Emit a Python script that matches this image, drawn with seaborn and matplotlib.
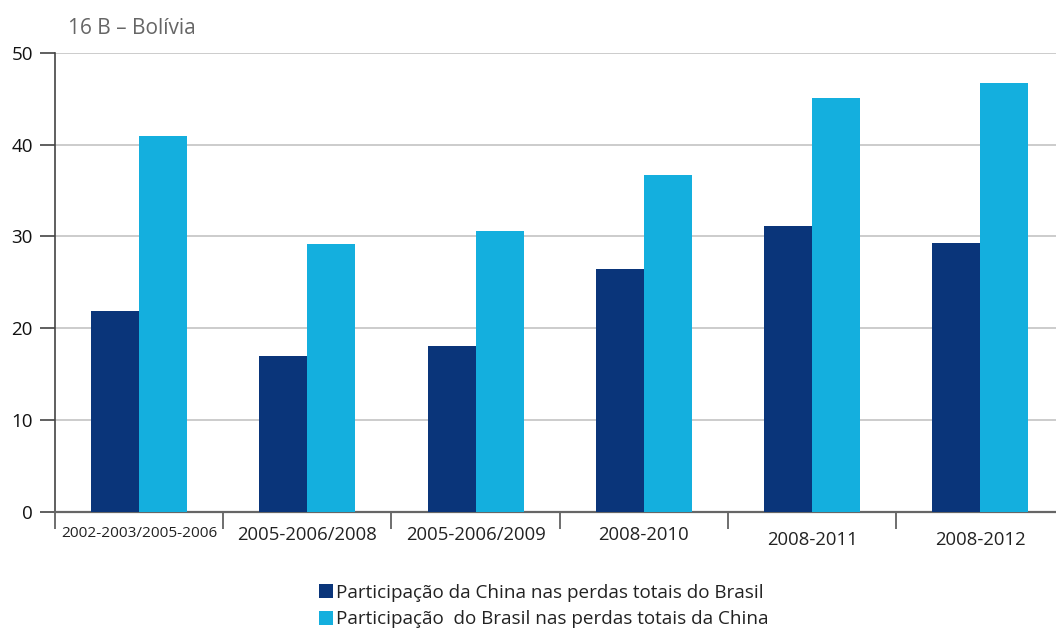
import numpy as np
import pandas as pd
import matplotlib.pyplot as plt
import matplotlib.transforms as mtransforms
import seaborn as sns

periodos = ['2002-2003/2005-2006', '2005-2006/2008', '2005-2006/2009',
            '2008-2010', '2008-2011', '2008-2012']
china_no_brasil = [21.9, 17.0, 18.1, 26.5, 31.1, 29.3]
brasil_na_china = [40.9, 29.2, 30.6, 36.7, 45.1, 46.7]
serie1 = 'Participação da China nas perdas totais do Brasil'
serie2 = 'Participação  do Brasil nas perdas totais da China'

df = pd.DataFrame({
    'periodo': periodos * 2,
    'valor': china_no_brasil + brasil_na_china,
    'serie': [serie1] * 6 + [serie2] * 6,
})

sns.set_style('white')
plt.rcParams['font.family'] = ['Open Sans', 'DejaVu Sans']

fig = plt.figure(figsize=(10.56, 6.32), dpi=100)
ax = fig.add_axes([55 / 1056, 1 - 511.6 / 632, 1001 / 1056, (511.6 - 53) / 632])

sns.barplot(data=df, x='periodo', y='valor', hue='serie',
            palette=['#0a357a', '#14afde'], width=0.57, saturation=1,
            linewidth=0, ax=ax, legend=True, zorder=3)

ax.set_xlim(-0.5, 5.45)
ax.set_ylim(0, 50)
ax.set_yticks([0, 10, 20, 30, 40, 50])
ax.yaxis.grid(True, color='#cccccc', linewidth=1.4, zorder=0)
ax.set_axisbelow(True)
ax.set_xlabel('')
ax.set_ylabel('')

for s in ['top', 'right']:
    ax.spines[s].set_visible(False)
ax.spines['left'].set_color('#444444')
ax.spines['bottom'].set_color('#666666')
ax.spines['left'].set_linewidth(1.2)
ax.spines['bottom'].set_linewidth(1.6)

ax.tick_params(axis='y', left=True, length=11, width=1.2, color='#444444',
               labelsize=13.5, pad=5, labelcolor='#111111')
ax.tick_params(axis='x', bottom=False, labelsize=13.3, pad=7, labelcolor='#222222')
ax.set_xticks(np.arange(-0.5, 5.5, 1), minor=True)
ax.tick_params(axis='x', which='minor', bottom=True, length=12, width=1.2,
               color='#555555')

xlabels = ax.get_xticklabels()
xlabels[0].set_fontsize(11.1)
offset = mtransforms.ScaledTranslation(0, -5 / 100, fig.dpi_scale_trans)
for lbl in xlabels[4:]:
    lbl.set_transform(lbl.get_transform() + offset)

ax.legend_.remove()
handles, labels = ax.get_legend_handles_labels()
fig.legend(handles, labels, loc='upper left', bbox_to_anchor=(302 / 1056, 1 - 567 / 632),
           frameon=False, fontsize=13.6, handlelength=0.75, handleheight=0.75,
           handletextpad=0.15, labelspacing=0.45, labelcolor='#222222')

fig.text(68 / 1056, 1 - 28 / 632, '16 B – Bolívia', fontsize=15, color='#666666',
         va='center', ha='left')

fig.savefig('out.png', dpi=100)
